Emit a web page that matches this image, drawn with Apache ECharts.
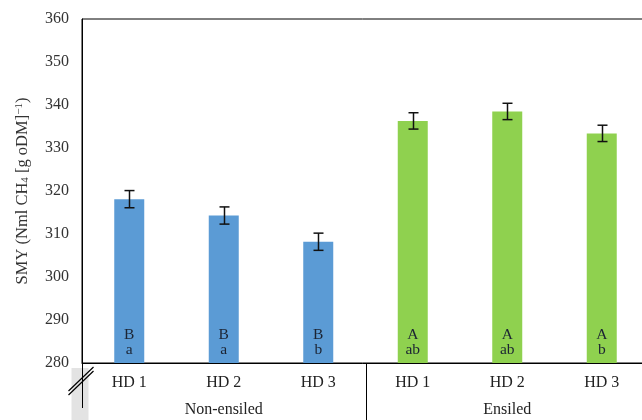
<!DOCTYPE html>
<html>
<head>
<meta charset="utf-8">
<script src="https://cdn.jsdelivr.net/npm/echarts@6/dist/echarts.min.js"></script>
<style>
  html, body { margin: 0; padding: 0; background: #fff; }
  #chart { width: 642px; height: 420px; }
</style>
</head>
<body>
<div id="chart"></div>
<script>
// Specific methane yield by harvest date, non-ensiled vs. ensiled
const groups = ['Non-ensiled', 'Ensiled'];
const harvestDates = ['HD 1', 'HD 2', 'HD 3'];
const nonEnsiledMean = [318.1, 314.3, 308.2];
const ensiledMean = [336.3, 338.5, 333.4];
const nonEnsiledErr = [2.0, 2.0, 2.0];
const ensiledErr = [1.9, 1.9, 1.9];
const nonEnsiledLetters = [['B', 'a'], ['B', 'a'], ['B', 'b']];
const ensiledLetters = [['A', 'ab'], ['A', 'ab'], ['A', 'b']];
const yTicks = [280, 290, 300, 310, 320, 330, 340, 350, 360];

const SERIF = '"Liberation Serif", "Times New Roman", serif';
const BLUE = '#5b9bd5';
const GREEN = '#8fd14f';

// Build one row per bar (group + harvest date)
const rows = [];
groups.forEach((g, gi) => {
  harvestDates.forEach((hd, hi) => {
    rows.push({
      key: g + '|' + hd,
      hd: hd,
      group: gi,
      mean: gi === 0 ? nonEnsiledMean[hi] : ensiledMean[hi],
      err: gi === 0 ? nonEnsiledErr[hi] : ensiledErr[hi],
      letters: gi === 0 ? nonEnsiledLetters[hi] : ensiledLetters[hi]
    });
  });
});

const chart = echarts.init(document.getElementById('chart'), null, { renderer: 'canvas' });

const option = {
  animation: false,
  grid: {
    left: 82, top: 19, width: 567, bottom: 57,
    outerBoundsMode: 'none',
    containLabel: false,
    show: true, borderColor: '#000', borderWidth: 1, backgroundColor: 'transparent'
  },
  xAxis: {
    type: 'category',
    data: rows.map(r => r.key),
    boundaryGap: true,
    axisLine: { show: true, lineStyle: { color: '#000', width: 1 } },
    axisTick: { show: false },
    axisLabel: {
      formatter: v => v.split('|')[1],
      fontFamily: SERIF, fontSize: 16, color: '#222', margin: 12
    },
    splitLine: { show: false }
  },
  yAxis: {
    type: 'value',
    min: yTicks[0],
    max: yTicks[yTicks.length - 1],
    interval: yTicks[1] - yTicks[0],
    axisLine: { show: true, lineStyle: { color: '#000', width: 1 } },
    axisTick: { show: false },
    splitLine: { show: false },
    axisLabel: { fontFamily: SERIF, fontSize: 16, color: '#333', margin: 13 },
    name: 'SMY (Nml CH{sub|4} [g oDM]{sup|−1})',
    nameLocation: 'middle',
    nameGap: 51,
    nameRotate: 90,
    nameTextStyle: {
      fontFamily: SERIF, fontSize: 16.5, color: '#333', lineHeight: 17,
      rich: {
        sub: { fontFamily: SERIF, fontSize: 11, color: '#333', lineHeight: 11, verticalAlign: 'bottom' },
        sup: { fontFamily: SERIF, fontSize: 11, color: '#333', lineHeight: 11, verticalAlign: 'top' }
      }
    }
  },
  series: [
    {
      type: 'bar',
      barWidth: 30,
      data: rows.map(r => ({
        value: r.mean,
        itemStyle: { color: r.group === 0 ? BLUE : GREEN },
        label: { formatter: r.letters[0] + '\n' + r.letters[1] }
      })),
      label: {
        show: true,
        position: 'insideBottom',
        distance: 6,
        fontFamily: SERIF,
        fontSize: 15.5,
        lineHeight: 15,
        color: '#1c2433'
      },
      z: 2
    },
    {
      type: 'custom',
      data: rows.map((r, i) => [i, r.mean - r.err, r.mean + r.err]),
      renderItem: function (params, api) {
        const x = api.value(0);
        const lo = api.coord([x, api.value(1)]);
        const hi = api.coord([x, api.value(2)]);
        const cx = Math.round(lo[0]) + 0.5;
        const hw = 5;
        const style = { stroke: '#111', lineWidth: 1.5 };
        return {
          type: 'group',
          children: [
            { type: 'line', shape: { x1: cx, y1: hi[1], x2: cx, y2: lo[1] }, style: style },
            { type: 'line', shape: { x1: cx - hw, y1: hi[1], x2: cx + hw, y2: hi[1] }, style: style },
            { type: 'line', shape: { x1: cx - hw, y1: lo[1], x2: cx + hw, y2: lo[1] }, style: style }
          ]
        };
      },
      z: 5
    }
  ]
};

chart.setOption(option);

// Group captions, separator and axis-break mark below the category axis
function drawExtras() {
  const x0 = chart.convertToPixel({ xAxisIndex: 0 }, 0);
  const x1 = chart.convertToPixel({ xAxisIndex: 0 }, 1);
  const step = x1 - x0;
  const left = x0 - step / 2;
  const baseY = chart.convertToPixel({ yAxisIndex: 0 }, yTicks[0]);
  const H = chart.getHeight();
  const per = harvestDates.length;
  const sepX = Math.round(left + step * per) + 0.5;
  const axX = Math.round(left) + 0.5;

  const elements = [];
  groups.forEach((g, gi) => {
    const cx = left + step * per * (gi + 0.5);
    elements.push({
      type: 'text',
      x: cx, y: baseY + 47,
      style: { text: g, font: '16px ' + SERIF, fill: '#222', align: 'center', verticalAlign: 'middle' },
      z: 10
    });
  });
  elements.push({
    type: 'line',
    shape: { x1: sepX, y1: baseY, x2: sepX, y2: H },
    style: { stroke: '#000', lineWidth: 1 }, z: 10
  });
  // axis break
  elements.push({
    type: 'rect',
    shape: { x: axX - 11, y: baseY + 5, width: 17, height: H - baseY - 5 },
    style: { fill: '#e3e3e3' }, z: 9
  });
  elements.push({
    type: 'line',
    shape: { x1: axX, y1: baseY, x2: axX, y2: baseY + 45 },
    style: { stroke: '#000', lineWidth: 1 }, z: 10
  });
  [0, 4].forEach(d => {
    elements.push({
      type: 'line',
      shape: { x1: axX - 14, y1: baseY + 28 + d, x2: axX + 11, y2: baseY + 4 + d },
      style: { stroke: '#000', lineWidth: 1.2 }, z: 11
    });
  });
  chart.setOption({ graphic: { elements: elements } });
}
drawExtras();
</script>
</body>
</html>
